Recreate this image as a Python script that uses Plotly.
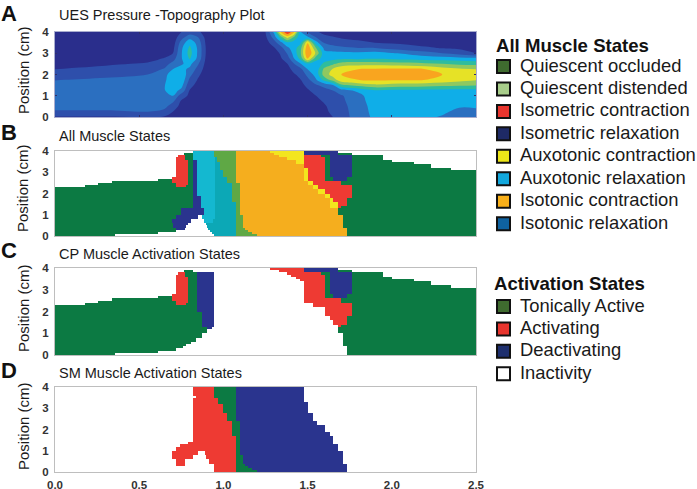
import numpy as np
import plotly.graph_objects as go

W, H = 697, 489

# ---------- Panel A: pressure topography (rows y, columns x) ----------
pressure_y = [0, .25, .5, .75, 1, 1.25, 1.5, 1.75, 2, 2.25, 2.5, 2.75, 3, 3.25, 3.5, 3.75, 4]
pressure_x = [0, .3, .55, .65, .7, .75, .8, .85, .9, 1.2, 1.25, 1.3, 1.34, 1.38, 1.42, 1.46, 1.5, 1.55,
              1.6, 1.65, 1.7, 1.8, 1.9, 2.0, 2.1, 2.2, 2.3, 2.4, 2.5]
pressure_columns = [
    [.9, 1.9, 2.3, 2.5, 2.5, 2.5, 2.3, 1.95, 1.5, 1.0, .6, .4, .3, .2, .2, .2, .2],
    [.9, 1.9, 2.3, 2.5, 2.6, 2.6, 2.5, 2.2, 1.7, 1.3, .85, .5, .3, .2, .2, .2, .2],
    [1.0, 2.0, 2.4, 2.6, 2.7, 2.7, 2.6, 2.3, 2.0, 1.5, 1.1, .7, .4, .3, .2, .2, .2],
    [.9, 1.7, 2.3, 2.7, 2.9, 2.95, 2.95, 2.8, 2.6, 2.1, 1.6, 1.05, .7, .5, .3, .2, .2],
    [.6, 1.0, 1.5, 2.2, 3.0, 3.5, 3.7, 3.7, 3.7, 3.0, 2.3, 1.6, 1.0, .7, .5, .4, .3],
    [.3, .5, .7, .9, 1.5, 2.7, 3.4, 3.8, 3.9, 3.3, 2.9, 2.9, 2.9, 2.8, 2.4, 1.6, 1.0],
    [.2, .3, .4, .6, .8, .95, 1.3, 1.8, 2.3, 2.8, 3.3, 4.1, 4.4, 4.2, 3.7, 2.6, 1.5],
    [.1, .2, .3, .4, .5, .6, .7, .9, 1.2, 1.6, 2.1, 2.7, 2.8, 2.8, 2.6, 2.0, 1.2],
    [.1, .1, .2, .2, .2, .3, .3, .3, .4, .5, .6, .7, .8, .8, .7, .6, .5],
    [.1, .1, .1, .1, .1, .1, .1, .1, .1, .1, .1, .2, .2, .2, .2, .2, .3],
    [.1, .1, .1, .1, .1, .1, .1, .1, .2, .2, .2, .3, .3, .4, .6, .8, 1.0],
    [.1, .1, .1, .1, .1, .1, .2, .2, .3, .3, .4, .5, .6, .9, 1.5, 2.4, 3.2],
    [.1, .1, .1, .1, .2, .2, .2, .3, .4, .6, .7, .9, 1.1, 1.6, 2.7, 4.5, 7.0],
    [.1, .1, .1, .2, .2, .3, .3, .4, .5, .7, 1.0, 1.5, 2.1, 2.8, 3.8, 6.4, 8.9],
    [.2, .2, .2, .3, .3, .4, .5, .7, .9, 1.3, 2.0, 3.0, 3.4, 3.5, 3.5, 4.8, 7.2],
    [.2, .3, .3, .4, .5, .6, .8, 1.0, 1.3, 1.8, 3.0, 4.4, 5.0, 4.8, 3.8, 3.2, 3.0],
    [.3, .4, .5, .6, .7, .9, 1.2, 1.7, 2.3, 3.0, 3.8, 7.1, 8.0, 7.8, 6.9, 3.2, 1.8],
    [.5, .6, .7, .8, 1.0, 1.3, 1.9, 2.9, 3.4, 3.4, 3.4, 4.4, 5.8, 5.0, 3.4, 2.0, 1.1],
    [.7, .8, .9, 1.1, 1.3, 1.6, 2.4, 4.4, 5.5, 5.3, 4.2, 3.6, 3.3, 2.7, 1.9, 1.2, .8],
    [1.0, 1.2, 1.3, 1.4, 1.6, 2.0, 3.0, 5.5, 6.4, 6.1, 4.8, 3.7, 3.3, 2.4, 1.6, 1.05, .7],
    [1.5, 1.6, 1.7, 1.8, 1.9, 2.6, 4.8, 6.7, 7.0, 6.8, 5.4, 3.8, 3.3, 2.2, 1.4, .9, .6],
    [2.5, 2.5, 2.5, 2.6, 2.7, 3.2, 5.4, 7.0, 7.4, 7.0, 5.6, 3.8, 3.2, 2.0, 1.15, .8, .5],
    [3.2, 3.3, 3.4, 3.5, 3.6, 3.9, 5.8, 7.2, 7.6, 7.1, 5.6, 3.9, 3.4, 2.0, 1.0, .7, .5],
    [3.3, 3.4, 3.5, 3.5, 3.6, 3.8, 5.6, 7.1, 7.8, 7.2, 5.5, 3.8, 3.1, 1.6, .9, .6, .5],
    [3.3, 3.4, 3.5, 3.5, 3.6, 3.8, 5.5, 7.1, 7.7, 7.2, 5.4, 3.7, 2.8, 1.3, .8, .6, .5],
    [3.2, 3.4, 3.5, 3.5, 3.6, 3.7, 5.4, 7.0, 7.5, 7.0, 5.2, 3.6, 2.4, 1.1, .7, .5, .4],
    [2.9, 3.2, 3.4, 3.5, 3.5, 3.7, 5.3, 6.7, 7.0, 6.5, 5.0, 3.5, 2.0, .95, .6, .5, .4],
    [2.3, 2.7, 3.1, 3.4, 3.5, 3.7, 5.2, 6.4, 6.7, 6.2, 4.8, 3.4, 1.6, .8, .6, .5, .4],
    [2.2, 2.6, 3.2, 3.4, 3.5, 3.7, 5.1, 6.1, 6.5, 6.0, 4.7, 3.3, 1.0, .7, .5, .4, .4],
]
pressure_colors = ["#2A2E8C", "#2E4FAB", "#2B6FC0", "#0FAEE8", "#2FBC9E", "#8FC860", "#E6E226", "#F9A51F", "#E8402A"]

# ---------- Panels B, C, D: per row "state end-x" runs, each with its top y ----------
B_rows = [
    (.1, "G .356 W .945 T 1.075 L 1.198 O 1.732 G 2.5"),
    (.2, "G .614 W .93 T 1.075 L 1.17 O 1.732 G 2.5"),
    (.3, "G .716 W .92 T 1.075 L 1.148 O 1.732 G 2.5"),
    (.4, "G .716 N .77 W .91 T 1.075 L 1.13 O 1.732 G 2.5"),
    (.5, "G .70 N .78 W .90 T 1.075 L 1.118 O 1.712 G 2.5"),
    (.6, "G .70 N .79 W .895 T 1.075 L 1.118 O 1.712 G 2.5"),
    (.8, "G .693 N .81 W .885 C .94 T 1.075 L 1.118 O 1.712 G 2.5"),
    (1.0, "G .717 N .85 W .875 C .95 T 1.075 L 1.118 O 1.712 G 2.5"),
    (1.3, "G .75 N .885 C .95 T 1.075 L 1.099 O 1.682 G 2.5"),
    (1.4, "G .82 N .867 C .95 T 1.075 L 1.099 O 1.633 Y 1.682 R 1.70 G 2.5"),
    (1.6, "G .82 N .867 C .95 T 1.075 L 1.099 O 1.633 Y 1.682 R 1.732 G 2.5"),
    (1.8, "G .82 N .867 C .95 T 1.05 L 1.099 O 1.633 Y 1.653 R 1.732 G 2.5"),
    (1.9, "G .82 N .867 C .95 T 1.05 L 1.099 O 1.603 Y 1.633 R 1.762 G 2.5"),
    (2.0, "G .817 N .841 C .95 T 1.05 L 1.099 O 1.603 Y 1.633 R 1.762 G 2.5"),
    (2.2, "G .817 N .841 C .95 T 1.05 L 1.099 O 1.564 Y 1.603 R 1.762 G 2.5"),
    (2.3, "G .817 N .841 C .95 T 1.05 L 1.099 O 1.534 Y 1.564 R 1.762 G 2.5"),
    (2.4, "W .178 G .717 R .78 G .817 N .841 C .95 T 1.05 L 1.099 O 1.534 Y 1.564 R 1.762 G 2.5"),
    (2.5, "W .257 G .717 R .792 G .817 N .841 C .95 T 1.05 L 1.099 O 1.504 Y 1.534 R 1.70 G 2.5"),
    (2.6, "W .336 G .693 R .792 G .817 N .841 C .95 T 1.02 L 1.075 O 1.504 Y 1.534 R 1.70 G 2.5"),
    (2.7, "W .614 G .693 R .792 G .817 N .841 C .95 T 1.02 L 1.075 O 1.479 Y 1.504 R 1.603 G 1.653 N 1.732 G 2.5"),
    (2.8, "W .693 R .792 G .817 N .841 C .95 T 1.02 L 1.075 O 1.479 Y 1.504 R 1.603 G 1.653 N 1.732 G 2.5"),
    (3.1, "W .717 R .792 G .817 N .841 C .95 T 1.0 L 1.075 O 1.479 Y 1.504 R 1.603 G 1.633 N 1.762 G 2.5"),
    (3.2, "W .717 R .792 G .817 N .841 C .95 T .98 L 1.075 O 1.479 Y 1.504 R 1.603 G 1.633 N 1.762 G 2.35 W 2.5"),
    (3.4, "W .717 R .792 G .817 N .841 C .95 T .98 L 1.075 O 1.479 R 1.603 G 1.633 N 1.762 G 2.23 W 2.5"),
    (3.5, "W .717 R .792 G .817 N .841 C .95 T .98 L 1.075 O 1.43 Y 1.479 R 1.603 G 1.633 N 1.762 G 2.13 W 2.5"),
    (3.6, "W .717 R .792 G .817 N .841 C .95 T .96 L 1.075 O 1.43 Y 1.479 R 1.603 G 1.633 N 1.762 G 2.0 W 2.5"),
    (3.7, "W .717 R .77 G .817 C .95 T .96 L 1.075 O 1.376 Y 1.479 R 1.603 G 1.633 N 1.762 G 1.95 W 2.5"),
    (3.8, "W .73 R .77 G .817 C .945 L 1.075 O 1.33 Y 1.479 R 1.58 G 1.633 N 1.762 G 1.95 W 2.5"),
    (3.9, "W .766 G .817 C .945 L 1.075 O 1.30 Y 1.479 N 1.682 G 1.762 W 2.5"),
    (4.0, "W .817 C .945 L 1.075 O 1.277 Y 1.479 N 1.682 W 2.5"),
]
C_rows = [
    (.1, "G .356 W 1.732 G 2.5"),
    (.2, "G .614 W 1.732 G 2.5"),
    (.3, "G .716 W 1.732 G 2.5"),
    (.4, "G .76 W 1.732 G 2.5"),
    (.5, "G .78 W 1.712 G 2.5"),
    (.6, "G .81 W 1.712 G 2.5"),
    (.8, "G .84 W 1.712 G 2.5"),
    (1.0, "G .87 W 1.712 G 2.5"),
    (1.2, "G .90 W 1.682 G 2.5"),
    (1.3, "G .90 N .93 W 1.682 G 2.5"),
    (1.4, "G .87 N .945 W 1.682 R 1.70 G 2.5"),
    (1.6, "G .87 N .945 W 1.653 R 1.732 G 2.5"),
    (1.8, "G .87 N .945 W 1.633 R 1.732 G 2.5"),
    (2.0, "G .87 N .945 W 1.603 R 1.762 G 2.5"),
    (2.2, "G .845 N .945 W 1.603 R 1.762 G 2.5"),
    (2.3, "G .845 N .945 W 1.534 R 1.762 G 2.5"),
    (2.4, "W .178 G .717 R .78 G .845 N .945 W 1.534 R 1.762 G 2.5"),
    (2.5, "W .257 G .717 R .792 G .845 N .945 W 1.479 R 1.70 G 2.5"),
    (2.6, "W .336 G .693 R .792 G .845 N .945 W 1.479 R 1.70 G 2.5"),
    (2.7, "W .614 G .693 R .792 G .845 N .945 W 1.479 R 1.603 G 1.653 N 1.732 G 2.5"),
    (2.8, "W .693 R .792 G .845 N .945 W 1.479 R 1.603 G 1.653 N 1.732 G 2.5"),
    (3.1, "W .717 R .792 G .845 N .945 W 1.479 R 1.603 G 1.633 N 1.762 G 2.5"),
    (3.2, "W .717 R .792 G .845 N .945 W 1.479 R 1.603 G 1.633 N 1.762 G 2.35 W 2.5"),
    (3.4, "W .717 R .792 G .845 N .945 W 1.479 R 1.603 G 1.633 N 1.762 G 2.23 W 2.5"),
    (3.5, "W .717 R .792 G .845 N .945 W 1.455 R 1.603 G 1.633 N 1.762 G 2.13 W 2.5"),
    (3.6, "W .717 R .792 G .845 N .945 W 1.43 R 1.603 G 1.633 N 1.762 G 2.0 W 2.5"),
    (3.7, "W .717 R .77 G .845 N .945 W 1.40 R 1.603 G 1.633 N 1.762 G 1.95 W 2.5"),
    (3.8, "W .73 R .77 G .845 N .945 W 1.376 R 1.58 G 1.633 N 1.762 G 1.95 W 2.5"),
    (3.9, "W .766 G .817 W 1.33 R 1.479 N 1.682 G 1.762 W 2.5"),
    (4.0, "W 1.277 R 1.479 N 1.682 W 2.5"),
]
D_rows = [
    (.1, "W .944 R 1.075 G 1.198 N 1.732 W 2.5"),
    (.2, "W .944 R 1.075 G 1.17 N 1.732 W 2.5"),
    (.3, "W .944 R 1.075 G 1.148 N 1.732 W 2.5"),
    (.4, "W .717 R .77 W .944 R 1.075 G 1.13 N 1.732 W 2.5"),
    (.6, "W .717 R .77 W .917 R 1.075 G 1.118 N 1.712 W 2.5"),
    (.8, "W .693 R .82 W .895 R 1.075 G 1.118 N 1.712 W 2.5"),
    (1.0, "W .693 R .85 W .89 R 1.075 G 1.099 N 1.712 W 2.5"),
    (1.2, "W .717 R 1.075 G 1.099 N 1.682 W 2.5"),
    (1.3, "W .742 R 1.075 G 1.099 N 1.682 W 2.5"),
    (1.4, "W .79 R 1.075 G 1.099 N 1.653 W 2.5"),
    (1.7, "W .817 R 1.075 G 1.099 N 1.653 W 2.5"),
    (1.9, "W .817 R 1.05 G 1.099 N 1.633 W 2.5"),
    (2.2, "W .817 R 1.05 G 1.099 N 1.603 W 2.5"),
    (2.4, "W .817 R 1.05 G 1.099 N 1.558 W 2.5"),
    (2.8, "W .817 R 1.02 G 1.075 N 1.534 W 2.5"),
    (3.2, "W .817 R 1.0 G 1.075 N 1.504 W 2.5"),
    (3.3, "W .817 R .97 G 1.075 N 1.504 W 2.5"),
    (3.5, "W .817 R .97 G 1.075 N 1.479 W 2.5"),
    (3.6, "W .84 R .944 G 1.075 N 1.479 W 2.5"),
    (4.0, "W .817 R .944 G 1.075 N 1.479 W 2.5"),
]
state_codes = {"W": 0, "G": 1, "L": 2, "R": 3, "N": 4, "Y": 5, "C": 6, "O": 7, "T": 8}
state_colors = ["#FFFFFF", "#0C7A43", "#5FA845", "#EE3A33", "#2A348E", "#F3E61E", "#14B8D0", "#F5AE1E", "#0CA8B6"]

panel_titles = ["UES Pressure -Topography Plot", "All Muscle States", "CP Muscle Activation States", "SM Muscle Activation States"]
panel_letters = ["A", "B", "C", "D"]
y_ticks = [0, 1, 2, 3, 4]
x_ticks = [0, .5, 1, 1.5, 2, 2.5]

legend1_title = "All Muscle States"
legend1_labels = ["Quiescent occluded", "Quiescent distended", "Isometric contraction", "Isometric relaxation",
                  "Auxotonic contraction", "Auxotonic relaxation", "Isotonic contraction", "Isotonic relaxation"]
legend1_colors = ["#3F6B2F", "#A8CD8A", "#E8352E", "#1E2A66", "#EDE619", "#12A7DC", "#F9B01A", "#0F62A0"]
legend2_title = "Activation States"
legend2_labels = ["Tonically Active", "Activating", "Deactivating", "Inactivity"]
legend2_colors = ["#3F6B2F", "#E8352E", "#1E2F6E", "#FFFFFF"]

# ---------- pixel layout ----------
plot_left, plot_right = 55, 476
panel_px = [(32, 117), (151, 236), (268, 355), (387, 472)]
title_py = [15, 136, 254, 373]
letter_py = [14, 132, 251, 370]
ylabel_py = [70, 188, 308, 426]
FONT = "Liberation Sans"


def px(x):
    return x / W


def py(y):
    return 1 - y / H


def rows_to_grid(rows):
    xs = sorted({0.0} | {float(t) for _, s in rows for t in s.split()[1::2]})
    ys = [0.0] + [r[0] for r in rows]
    z = []
    for _, s in rows:
        parts = s.split()
        runs = list(zip(parts[0::2], map(float, parts[1::2])))
        row = []
        for a, b in zip(xs[:-1], xs[1:]):
            mid = (a + b) / 2
            row.append(next(state_codes[k] for k, e in runs if mid <= e))
        z.append(row)
    return xs, ys, z


fig = go.Figure()
fig.add_trace(go.Contour(
    x=pressure_x, y=pressure_y, z=np.array(pressure_columns).T.tolist(),
    contours=dict(start=1, end=8, size=1, coloring="fill"), line=dict(width=0),
    zmin=.5, zmax=8.5, showscale=False, hoverinfo="skip",
    colorscale=[[i / 8, c] for i, c in enumerate(pressure_colors)],
    xaxis="x", yaxis="y"))
for i, rows in enumerate([B_rows, C_rows, D_rows]):
    xs, ys, z = rows_to_grid(rows)
    n = str(i + 2)
    fig.add_trace(go.Heatmap(x=xs, y=ys, z=z, zmin=0, zmax=8, showscale=False, hoverinfo="skip",
                             colorscale=[[k / 8, c] for k, c in enumerate(state_colors)],
                             xaxis="x" + n, yaxis="y" + n))

layout = dict(width=W, height=H, margin=dict(l=0, r=0, t=0, b=0, autoexpand=False), paper_bgcolor="white",
              plot_bgcolor="white", autosize=False, showlegend=False, font=dict(family=FONT, color="#222222"))
for i, (top, bottom) in enumerate(panel_px):
    n = "" if i == 0 else str(i + 1)
    border = "#A9ADCF" if i == 0 else "#BEBEBE"
    ticks = dict(ticks="inside", ticklen=2, tickcolor="#30306A", mirror="ticks") if i == 0 else dict(ticks="", mirror=True)
    layout["xaxis" + n] = dict(domain=[px(plot_left), px(plot_right)], range=[0, 2.5], anchor="y" + n,
                               showgrid=False, zeroline=False, showline=True, linecolor=border, linewidth=1,
                               tickvals=x_ticks, tickformat=".1f", ticklabelstandoff=2,
                               showticklabels=i == 3,
                               tickfont=dict(family=FONT, size=11.5, weight=700, color="#333333"), **ticks)
    layout["yaxis" + n] = dict(domain=[py(bottom), py(top)], range=[0, 4], anchor="x" + n,
                               showgrid=False, zeroline=False, showline=True, linecolor=border, linewidth=1,
                               tickvals=y_ticks, ticklabelstandoff=3,
                               tickfont=dict(family=FONT, size=11.5, weight=700, color="#333333"), **ticks)

annotations, shapes = [], []


def text(x, y, s, size, bold=False, angle=0, anchor="left", color="#1A1A1A"):
    annotations.append(dict(x=px(x), y=py(y), xref="paper", yref="paper", text=s, showarrow=False,
                            xanchor=anchor, yanchor="middle", textangle=angle, borderpad=0,
                            font=dict(family=FONT, size=size, color=color, weight=700 if bold else 400)))


for i in range(4):
    text(58, title_py[i], panel_titles[i], 14.5)
    text(0, letter_py[i], panel_letters[i], 22, bold=True, color="#111111")
    text(23, ylabel_py[i], "Position (cm)", 15, angle=-90, anchor="center")


def legend(title, title_x, title_y, labels, colors, y0, step):
    text(title_x, title_y, title, 18.6, bold=True, color="#111111")
    for j, (lab, col) in enumerate(zip(labels, colors)):
        y = y0 + j * step
        text(519, y, lab, 18.4)
        shapes.append(dict(type="rect", xref="paper", yref="paper", x0=px(497), x1=px(510),
                           y0=py(y + 8), y1=py(y - 5), fillcolor=col, line=dict(color="#111111", width=2)))


legend(legend1_title, 495, 45, legend1_labels, legend1_colors, 65, 22.45)
legend(legend2_title, 493, 283, legend2_labels, legend2_colors, 305, 22.4)
layout["annotations"] = annotations
layout["shapes"] = shapes
fig.update_layout(**layout)
fig.write_html("out.html", config={"displayModeBar": False}, post_script="document.body.style.margin='0';")
